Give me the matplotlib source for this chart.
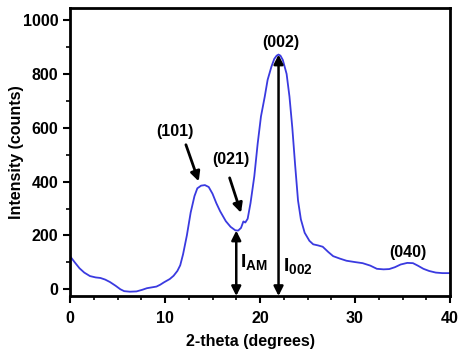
import numpy as np
import matplotlib
matplotlib.use("Agg")
import matplotlib.pyplot as plt
from matplotlib.ticker import MultipleLocator

# --- Data ---
two_theta = [0.0, 0.5, 1.0, 1.5, 2.1, 2.7, 3.2, 3.7, 4.2, 4.8, 5.3, 5.7, 6.3, 7.0,
             7.6, 8.1, 8.6, 9.1, 9.5, 9.9, 10.5, 10.9, 11.3, 11.6, 11.9, 12.3,
             12.7, 13.1, 13.4, 13.8, 14.2, 14.6, 15.0, 15.4, 15.8, 16.4, 16.9,
             17.4, 17.7, 18.0, 18.25, 18.45, 18.7, 19.0, 19.4, 19.75, 20.1, 20.5,
             20.8, 21.2, 21.5, 21.75, 21.95, 22.15, 22.4, 22.8, 23.1, 23.4, 23.7,
             24.0, 24.3, 24.7, 25.2, 25.6, 26.1, 26.6, 27.2, 27.7, 28.4, 29.1,
             30.0, 30.8, 31.6, 32.3, 33.0, 33.6, 34.2, 34.8, 35.5, 36.1, 36.6,
             37.2, 37.8, 38.5, 39.2, 40.0]
counts = [123, 100, 78, 62, 49, 44, 42, 36, 27, 13, 0, -7, -9, -8,
          -2, 4, 7, 10, 17, 26, 38, 50, 68, 89, 130, 200,
          285, 346, 375, 385, 387, 380, 355, 320, 290, 253, 232,
          219, 218, 228, 252, 248, 262, 320, 420, 540, 642, 716,
          778, 827, 856, 868, 872, 868, 852, 800, 716, 600, 460,
          330, 260, 210, 180, 167, 163, 158, 138, 123, 114, 106,
          101, 97, 88, 76, 74, 75, 82, 92, 98, 97, 88,
          76, 68, 62, 60, 60]

# peak labels: text, x, y
peak_labels = ["(101)", "(021)", "(002)", "(040)"]
peak_x = [11.0, 16.9, 22.2, 35.6]
peak_y = [586, 481, 916, 138]

# arrows pointing at peaks (start -> tip)
arrow_start = [(12.2, 537), (16.8, 414)]
arrow_tip = [(13.55, 401), (18.0, 284)]

# intensity markers
x_am, y_am = 17.5, 218
x_002, y_002 = 21.95, 872

plt.rcParams['font.family'] = ['Liberation Sans', 'DejaVu Sans']
plt.rcParams['font.weight'] = 'bold'
plt.rcParams['mathtext.fontset'] = 'custom'
plt.rcParams['mathtext.rm'] = 'Liberation Sans:bold'
plt.rcParams['mathtext.bf'] = 'Liberation Sans:bold'

fig = plt.figure(figsize=(4.74, 3.59), dpi=100)
ax = fig.add_axes([0.1477, 0.1755, 0.8017, 0.8022])

ax.plot(two_theta, counts, color='#3a3ae0', lw=1.3)

ax.set_xlim(0, 40)
ax.set_ylim(-25, 1045)
ax.xaxis.set_major_locator(MultipleLocator(10))
ax.xaxis.set_minor_locator(MultipleLocator(2.5))
ax.yaxis.set_major_locator(MultipleLocator(200))
ax.yaxis.set_minor_locator(MultipleLocator(100))
ax.tick_params(which='major', length=5, width=1.5, labelsize=11.5)
ax.tick_params(which='minor', length=3, width=1.2)
ax.tick_params(axis='x', pad=6)
for s in ax.spines.values():
    s.set_linewidth(2)

ax.set_xlabel("2-theta (degrees)", fontsize=11.5, fontweight='bold')
ax.set_ylabel("Intensity (counts)", fontsize=11.5, fontweight='bold')
ax.xaxis.set_label_coords(0.474, -0.132)
ax.yaxis.set_label_coords(-0.12, 0.5)

for lab, px, py in zip(peak_labels, peak_x, peak_y):
    ax.text(px, py, lab, ha='center', va='center', fontsize=11.5, fontweight='bold')

for st, tp in zip(arrow_start, arrow_tip):
    ax.annotate("", xy=tp, xytext=st,
                arrowprops=dict(arrowstyle='-|>', color='black', lw=2,
                                mutation_scale=14, shrinkA=0, shrinkB=0))

# double arrows for I_AM and I_002
for xv, yv in [(x_am, y_am), (x_002, y_002)]:
    ax.annotate("", xy=(xv, yv), xytext=(xv, -25),
                arrowprops=dict(arrowstyle='<|-|>', color='black', lw=1.8,
                                mutation_scale=14, shrinkA=0, shrinkB=0))

ax.text(x_am + 0.35, 100, r"$\mathbf{I_{AM}}$", fontsize=14, ha='left', va='center')
ax.text(x_002 + 0.45, 85, r"$\mathbf{I_{002}}$", fontsize=14, ha='left', va='center')

fig.savefig("out.png", dpi=100)
